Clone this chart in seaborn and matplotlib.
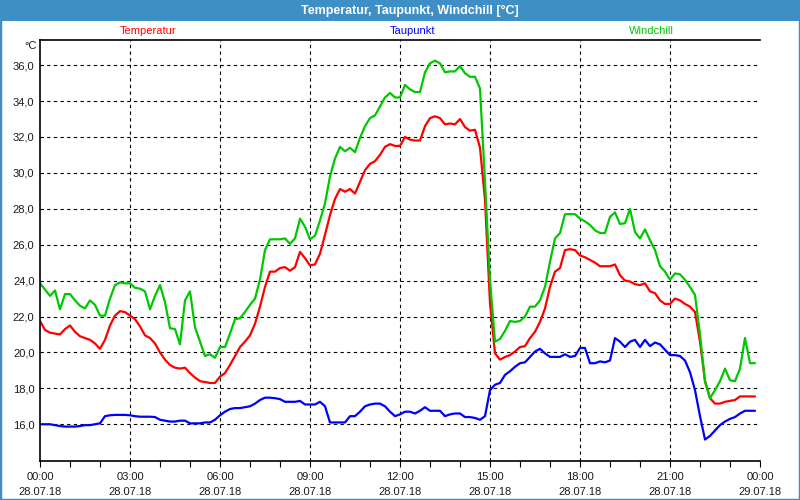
import numpy as np
import pandas as pd
import matplotlib
matplotlib.use("Agg")
import matplotlib.pyplot as plt
import seaborn as sns
from matplotlib.patches import Rectangle

# ---------------- data (10-minute samples, 28.07.18 00:00 - 23:50) ----------------
sample_minutes = np.arange(0, 1440, 10)

temperatur = [
    21.75, 21.25, 21.10, 21.05, 21.00, 21.30, 21.50, 21.15, 20.90, 20.80, 20.70, 20.50,
    20.20, 20.70, 21.50, 22.05, 22.30, 22.25, 22.05, 21.85, 21.45, 20.95, 20.80, 20.50,
    20.00, 19.60, 19.30, 19.15, 19.10, 19.15, 18.85, 18.60, 18.40, 18.35, 18.30, 18.30,
    18.65, 18.85, 19.30, 19.80, 20.30, 20.60, 20.95, 21.60, 22.55, 23.65, 24.50, 24.50,
    24.70, 24.75, 24.55, 24.75, 25.60, 25.25, 24.85, 24.90, 25.50, 26.55, 27.65, 28.55,
    29.10, 28.95, 29.10, 28.85, 29.50, 30.15, 30.50, 30.65, 31.00, 31.45, 31.60, 31.50,
    31.50, 32.00, 31.85, 31.80, 31.80, 32.60, 33.05, 33.15, 33.05, 32.70, 32.75, 32.70,
    33.00, 32.55, 32.35, 32.40, 31.40, 28.50, 22.75, 19.95, 19.60, 19.75, 19.85, 20.05,
    20.30, 20.35, 20.80, 21.15, 21.70, 22.45, 23.65, 24.50, 24.70, 25.70, 25.75, 25.70,
    25.40, 25.30, 25.15, 25.00, 24.80, 24.80, 24.80, 24.90, 24.30, 24.00, 23.95, 23.80,
    23.75, 23.85, 23.40, 23.30, 22.90, 22.70, 22.70, 23.00, 22.90, 22.70, 22.55, 22.25,
    20.60, 18.40, 17.45, 17.15, 17.15, 17.25, 17.30, 17.35, 17.55, 17.55, 17.55, 17.55,
]

taupunkt = [
    16.00, 16.00, 16.00, 15.95, 15.90, 15.87, 15.87, 15.87, 15.90, 15.95, 15.95, 16.00,
    16.05, 16.45, 16.50, 16.52, 16.52, 16.52, 16.50, 16.45, 16.42, 16.42, 16.42, 16.40,
    16.25, 16.20, 16.15, 16.15, 16.20, 16.20, 16.05, 16.05, 16.05, 16.10, 16.10, 16.25,
    16.50, 16.70, 16.85, 16.90, 16.90, 16.95, 17.00, 17.15, 17.35, 17.48, 17.48, 17.45,
    17.40, 17.25, 17.25, 17.25, 17.30, 17.10, 17.10, 17.10, 17.25, 17.00, 16.10, 16.10,
    16.10, 16.10, 16.45, 16.45, 16.70, 17.00, 17.10, 17.15, 17.15, 17.00, 16.70, 16.45,
    16.55, 16.70, 16.70, 16.60, 16.75, 16.95, 16.75, 16.75, 16.75, 16.45, 16.55, 16.60,
    16.60, 16.40, 16.40, 16.35, 16.25, 16.45, 17.90, 18.20, 18.30, 18.75, 18.95, 19.20,
    19.40, 19.45, 19.75, 20.05, 20.20, 19.95, 19.75, 19.75, 19.75, 19.90, 19.75, 19.80,
    20.25, 20.25, 19.40, 19.40, 19.50, 19.45, 19.55, 20.80, 20.60, 20.30, 20.60, 20.70,
    20.30, 20.70, 20.35, 20.55, 20.45, 20.15, 19.85, 19.85, 19.80, 19.55, 18.90, 17.90,
    16.45, 15.15, 15.35, 15.65, 15.95, 16.15, 16.30, 16.40, 16.60, 16.75, 16.75, 16.75,
]

windchill = [
    23.85, 23.50, 23.15, 23.45, 22.40, 23.25, 23.25, 22.90, 22.60, 22.45, 22.90, 22.65,
    22.05, 22.05, 23.00, 23.75, 23.90, 23.85, 23.85, 23.60, 23.55, 23.40, 22.40, 23.15,
    23.75, 22.80, 21.35, 21.30, 20.45, 22.90, 23.40, 21.40, 20.60, 19.80, 19.90, 19.70,
    20.30, 20.30, 21.05, 21.85, 21.90, 22.25, 22.65, 23.00, 24.05, 25.70, 26.30, 26.30,
    26.30, 26.35, 26.05, 26.35, 27.45, 27.00, 26.30, 26.50, 27.35, 28.30, 29.80, 30.80,
    31.45, 31.20, 31.40, 31.15, 31.95, 32.60, 33.05, 33.20, 33.70, 34.20, 34.45, 34.20,
    34.20, 34.90, 34.65, 34.50, 34.50, 35.60, 36.10, 36.25, 36.10, 35.60, 35.65, 35.65,
    35.95, 35.55, 35.35, 35.35, 34.70, 29.50, 24.00, 20.60, 20.75, 21.20, 21.75, 21.70,
    21.75, 22.00, 22.55, 22.55, 22.90, 23.65, 25.05, 26.35, 26.65, 27.70, 27.70, 27.70,
    27.45, 27.30, 27.10, 26.80, 26.65, 26.65, 27.55, 27.80, 27.15, 27.20, 28.00, 26.70,
    26.35, 26.85, 26.25, 25.70, 24.80, 24.50, 24.05, 24.40, 24.35, 24.05, 23.65, 23.20,
    21.00, 18.40, 17.45, 17.90, 18.40, 19.10, 18.45, 18.40, 19.10, 20.80, 19.40, 19.40,
]

series_names = ["Temperatur", "Taupunkt", "Windchill"]
series_colors = ["#ff0000", "#0000ff", "#00c800"]

tick_hours = [0, 3, 6, 9, 12, 15, 18, 21, 24]
tick_times = ["00:00", "03:00", "06:00", "09:00", "12:00", "15:00", "18:00", "21:00", "00:00"]
tick_dates = ["28.07.18"] * 8 + ["29.07.18"]
y_ticks = [16, 18, 20, 22, 24, 26, 28, 30, 32, 34, 36]

title = "Temperatur, Taupunkt, Windchill [°C]"
unit = "°C"

# ---------------- build frame ----------------
hours = sample_minutes / 60.0
df = pd.concat([
    pd.DataFrame({"Stunde": hours, "Wert": vals, "Reihe": name})
    for name, vals in zip(series_names, [temperatur, taupunkt, windchill])
], ignore_index=True)

# ---------------- style ----------------
sns.set_theme(style="white")
plt.rcParams["font.family"] = ["Liberation Sans", "DejaVu Sans"]

fig = plt.figure(figsize=(8, 5), dpi=100, facecolor="white")
ax = fig.add_axes([40 / 800, 1 - 460.7 / 500, 720 / 800, 420.7 / 500])
ax.set_facecolor("white")

sns.lineplot(data=df, x="Stunde", y="Wert", hue="Reihe", hue_order=series_names,
             palette=series_colors, linewidth=1.6, legend=False, ax=ax,
             estimator=None, sort=False)

ax.set_xlim(0, 24)
ax.set_ylim(13.97, 37.4)
ax.set_xlabel("")
ax.set_ylabel("")

ax.set_xticks(tick_hours)
ax.set_xticklabels([f"{t}\n{d}" for t, d in zip(tick_times, tick_dates)],
                   fontsize=8, color="#1a1a1a", linespacing=1.6)
ax.set_xticks(range(0, 25), minor=True)
ax.set_yticks(y_ticks)
ax.set_yticklabels([f"{v:.1f}".replace(".", ",") for v in y_ticks], fontsize=8, color="#1a1a1a")

ax.tick_params(axis="x", which="both", direction="out", length=4, width=0.8,
               color="black", bottom=True, pad=4)
ax.tick_params(axis="y", which="both", length=0, pad=4)

ax.grid(True, which="major", axis="both", color="black", linestyle=(0, (3, 3)), linewidth=0.8)
for gl in ax.xaxis.get_gridlines()[-1:]:
    gl.set_visible(False)
for gl in ax.xaxis.get_gridlines()[:1]:
    gl.set_visible(False)

for side in ["left", "bottom", "top"]:
    ax.spines[side].set_visible(True)
    ax.spines[side].set_color("black")
    ax.spines[side].set_linewidth(1.2)
ax.spines["right"].set_visible(False)

# title bar and frame
fig.add_artist(Rectangle((0, 1 - 21 / 500), 1, 21 / 500, transform=fig.transFigure,
                         facecolor="#3d8fc6", edgecolor="none", zorder=0))
fig.add_artist(Rectangle((0, 0), 1, 1, transform=fig.transFigure, fill=False,
                         edgecolor="#3d8fc6", linewidth=2.5))
fig.text(410 / 800, 1 - 10.5 / 500, title, color="white", fontsize=9, fontweight="bold",
         ha="center", va="center")

# series labels
label_x = [148, 413, 651]
for name, col, lx in zip(series_names, series_colors, label_x):
    fig.text(lx / 800, 1 - 31.5 / 500, name, color=col, fontsize=8, ha="center", va="center")

fig.text(31 / 800, 1 - 46 / 500, unit, color="#1a1a1a", fontsize=8, ha="center", va="center")

fig.savefig("out.png", dpi=100, facecolor="white")
